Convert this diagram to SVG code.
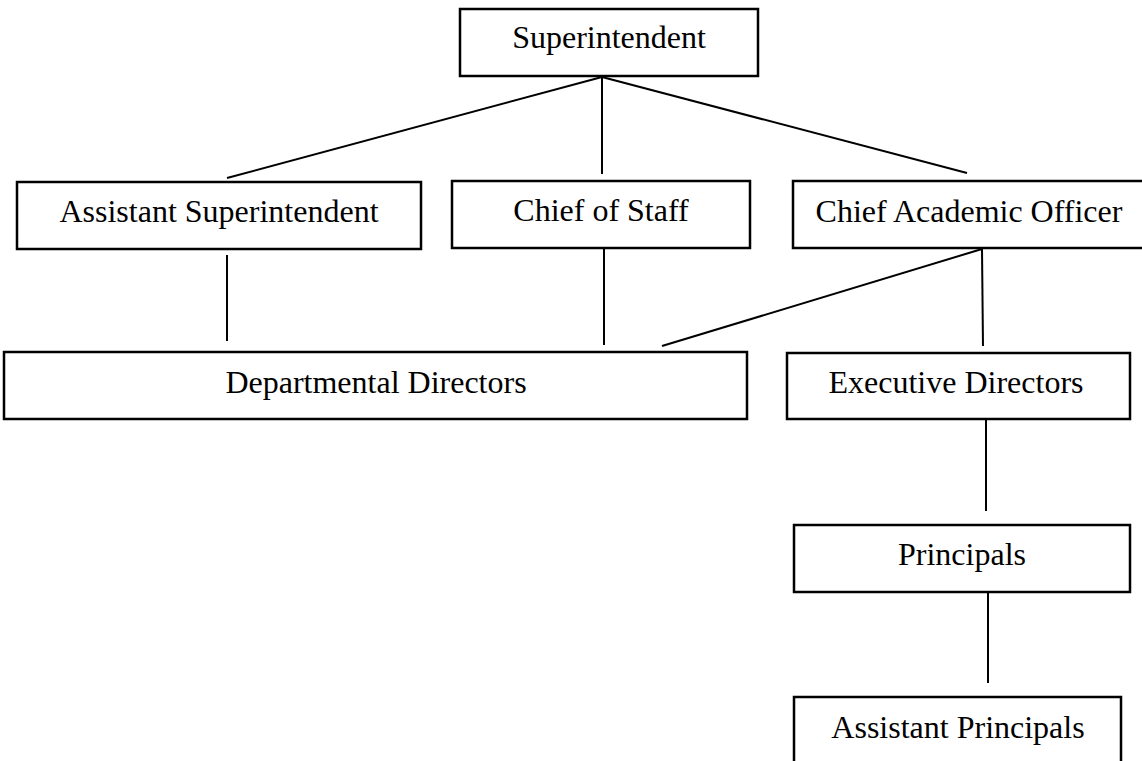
<svg xmlns="http://www.w3.org/2000/svg" width="1142" height="761" viewBox="0 0 1142 761">
<style>
.box{fill:#fff;stroke:#000;stroke-width:2.5}
.lbl{font-family:"Liberation Serif","Times New Roman",serif;font-size:32px;fill:#000;text-anchor:middle}
.con line{stroke:#000;stroke-width:2}
</style>
<rect width="1142" height="761" fill="#fff"/>
<g id="connectors" class="con">
<line x1="602" y1="77" x2="227" y2="178"/>
<line x1="602" y1="77" x2="602" y2="174"/>
<line x1="602" y1="77" x2="967" y2="173"/>
<line x1="227" y1="255" x2="227" y2="341"/>
<line x1="604" y1="249" x2="604" y2="345"/>
<line x1="982" y1="249" x2="662" y2="346"/>
<line x1="982" y1="249" x2="983" y2="346"/>
<line x1="986" y1="419" x2="986" y2="511"/>
<line x1="988" y1="592" x2="988" y2="683"/>
</g>
<g id="superintendent"><rect class="box" x="460" y="9" width="298" height="67"/><text class="lbl" x="609" y="48">Superintendent</text></g>
<g id="asst-superintendent"><rect class="box" x="17" y="182" width="404" height="67"/><text class="lbl" x="219" y="222">Assistant Superintendent</text></g>
<g id="chief-of-staff"><rect class="box" x="452" y="181" width="298" height="67"/><text class="lbl" x="601" y="221">Chief of Staff</text></g>
<g id="chief-academic-officer"><rect class="box" x="793" y="181" width="352" height="67"/><text class="lbl" x="969" y="222">Chief Academic Officer</text></g>
<g id="departmental-directors"><rect class="box" x="4" y="352" width="743" height="67"/><text class="lbl" x="376" y="393">Departmental Directors</text></g>
<g id="executive-directors"><rect class="box" x="787" y="353" width="343" height="66"/><text class="lbl" x="956" y="393">Executive Directors</text></g>
<g id="principals"><rect class="box" x="794" y="525" width="336" height="67"/><text class="lbl" x="962" y="565">Principals</text></g>
<g id="assistant-principals"><rect class="box" x="794" y="697" width="327" height="80"/><text class="lbl" x="958" y="738">Assistant Principals</text></g>
</svg>
